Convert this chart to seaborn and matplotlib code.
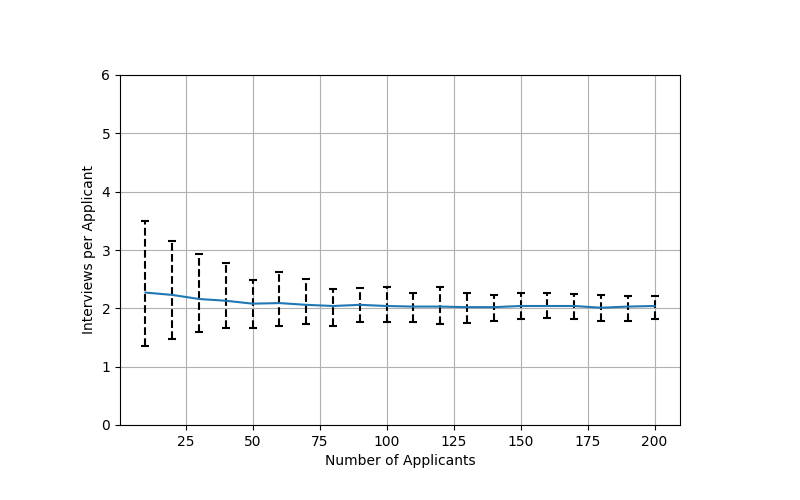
import numpy as np
import matplotlib
matplotlib.use('Agg')
import matplotlib.pyplot as plt
import seaborn as sns

applicants = [10, 20, 30, 40, 50, 60, 70, 80, 90, 100,
              110, 120, 130, 140, 150, 160, 170, 180, 190, 200]
mean_interviews = [2.27, 2.23, 2.16, 2.13, 2.08, 2.09, 2.06, 2.04, 2.06, 2.04,
                   2.03, 2.03, 2.02, 2.02, 2.04, 2.04, 2.04, 2.01, 2.03, 2.04]
low_interviews = [1.35, 1.47, 1.59, 1.67, 1.67, 1.69, 1.73, 1.70, 1.76, 1.76,
                  1.76, 1.73, 1.75, 1.79, 1.82, 1.83, 1.81, 1.78, 1.78, 1.81]
high_interviews = [3.49, 3.15, 2.94, 2.78, 2.48, 2.62, 2.51, 2.34, 2.35, 2.36,
                   2.27, 2.36, 2.26, 2.23, 2.27, 2.26, 2.24, 2.23, 2.21, 2.22]

x = np.array(applicants)
mean = np.array(mean_interviews)
yerr = [mean - np.array(low_interviews), np.array(high_interviews) - mean]

#%%
fig, ax = plt.subplots(figsize=(8, 5), dpi=100)
fig.subplots_adjust(left=0.15, right=0.85, bottom=0.15, top=0.85)

eb = ax.errorbar(x, mean, yerr=yerr, fmt='none', ecolor='black',
                 elinewidth=1.5, capsize=3, capthick=1.5)
eb[-1][0].set_linestyle('--')

sns.lineplot(x=x, y=mean, ax=ax, color='#1f77b4', linewidth=1.5)

ax.set_ylim(0, 6)
ax.set_xticks([25, 50, 75, 100, 125, 150, 175, 200])
ax.grid(True)
ax.set_axisbelow(True)
ax.set_xlabel('Number of Applicants')
ax.set_ylabel('Interviews per Applicant')

plt.savefig('out.png', dpi=100)
